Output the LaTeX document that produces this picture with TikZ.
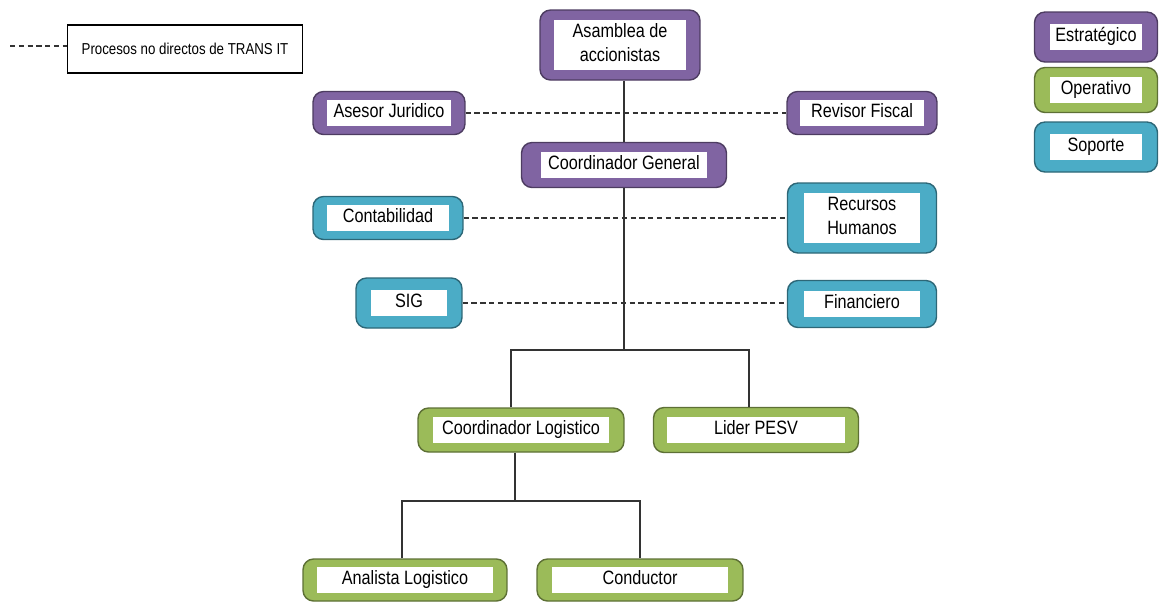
\documentclass[tikz,border=0pt]{standalone}
\usepackage{fontspec}
\setmainfont{Liberation Sans}[FakeStretch=0.84]
\usepackage{tikz}
\usetikzlibrary{positioning,calc}
\definecolor{cestr}{RGB}{128,100,162}
\definecolor{coper}{RGB}{155,187,89}
\definecolor{csop}{RGB}{75,172,198}
\tikzset{
  unit/.style={rectangle,rounded corners=6pt,line width=0.8pt,inner sep=0pt,
    align=center,font=\fontsize{11}{13.6}\selectfont},
  % levels: strategic in purple, operative in green, support in blue
  estr/.style={unit,fill=cestr,draw=cestr!60!black},
  oper/.style={unit,fill=coper,draw=coper!60!black},
  sop/.style={unit,fill=csop,draw=csop!60!black},
  link/.style={line width=0.7pt,draw=black!80},
  nolink/.style={link,dash pattern=on 3pt off 2pt}
}
\setlength{\fboxsep}{0.4pt}
\newcommand{\wbox}[2]{\colorbox{white}{\parbox{#1}{\centering\strut #2\strut}}}
\begin{document}
\begin{tikzpicture}[x=0.02cm,y=-0.02cm]
  \useasboundingbox (0,0) rectangle (1160,603);
  % legend of the dashed line
  \node[draw,line width=0.7pt,minimum width=4.7cm,minimum height=0.96cm,
    font=\fontsize{9}{11}\selectfont] (legnd) at (185,49) {Procesos no directos de TRANS IT};
  \coordinate (leg0) at (10,46);
  \draw[nolink] (leg0) -- (leg0 -| legnd.west);
  % legend of the levels
  \node[estr,minimum width=2.46cm,minimum height=1.0cm] (kestr) at (1096,37) {\wbox{1.8cm}{Estratégico}};
  \node[oper,minimum width=2.46cm,minimum height=0.9cm] (koper) at (1096,90) {\wbox{1.8cm}{Operativo}};
  \node[sop,minimum width=2.46cm,minimum height=1.0cm] (ksop) at (1096,147) {\wbox{1.8cm}{Soporte}};
  % chart
  \node[estr,minimum width=3.2cm,minimum height=1.4cm] (asam) at (620,45) {\wbox{2.6cm}{Asamblea de\\ accionistas}};
  \node[estr,minimum width=3.04cm,minimum height=0.86cm] (asesor) at (389,113) {\wbox{2.44cm}{Asesor Juridico}};
  \node[estr,minimum width=3.0cm,minimum height=0.86cm] (revisor) at (862,113) {\wbox{2.44cm}{Revisor Fiscal}};
  \node[estr,minimum width=4.1cm,minimum height=0.9cm] (cgen) at (624,165) {\wbox{3.3cm}{Coordinador General}};
  \node[sop,minimum width=3.0cm,minimum height=0.86cm] (conta) at (388,218) {\wbox{2.4cm}{Contabilidad}};
  \node[sop,minimum width=2.98cm,minimum height=1.4cm] (rrhh) at (862,218) {\wbox{2.3cm}{Recursos\\ Humanos}};
  \node[sop,minimum width=2.12cm,minimum height=1.0cm] (sig) at (409,303) {\wbox{1.5cm}{SIG}};
  \node[sop,minimum width=2.98cm,minimum height=0.94cm] (finan) at (862,304) {\wbox{2.3cm}{Financiero}};
  \node[oper,minimum width=4.12cm,minimum height=0.88cm] (clog) at (521,430) {\wbox{3.5cm}{Coordinador Logistico}};
  \node[oper,minimum width=4.1cm,minimum height=0.9cm] (pesv) at (756,430) {\wbox{3.55cm}{Lider PESV}};
  \node[oper,minimum width=4.08cm,minimum height=0.84cm] (analista) at (405,580) {\wbox{3.5cm}{Analista Logistico}};
  \node[oper,minimum width=4.12cm,minimum height=0.84cm] (conduc) at (640,580) {\wbox{3.5cm}{Conductor}};
  % solid lines: direct hierarchy
  \coordinate (j1) at (624,350);
  \coordinate (b1) at (511,350);
  \coordinate (b2) at (749,350);
  \coordinate (j2) at (515,501);
  \coordinate (b3) at (402,501);
  \coordinate (b4) at (640,501);
  \draw[link] (asam.south -| j1) -- (cgen.north -| j1);
  \draw[link] (cgen.south -| j1) -- (j1);
  \draw[link] (b1 |- clog.north) -- (b1) -- (b2) -- (b2 |- pesv.north);
  \draw[link] (clog.south -| j2) -- (j2);
  \draw[link] (b3 |- analista.north) -- (b3) -- (b4) -- (b4 |- conduc.north);
  % dashed lines: indirect processes
  \draw[nolink] (asesor) -- (revisor);
  \draw[nolink] (conta) -- (rrhh);
  \draw[nolink] (sig.east) -- (sig.east -| finan.west);
\end{tikzpicture}
\end{document}
